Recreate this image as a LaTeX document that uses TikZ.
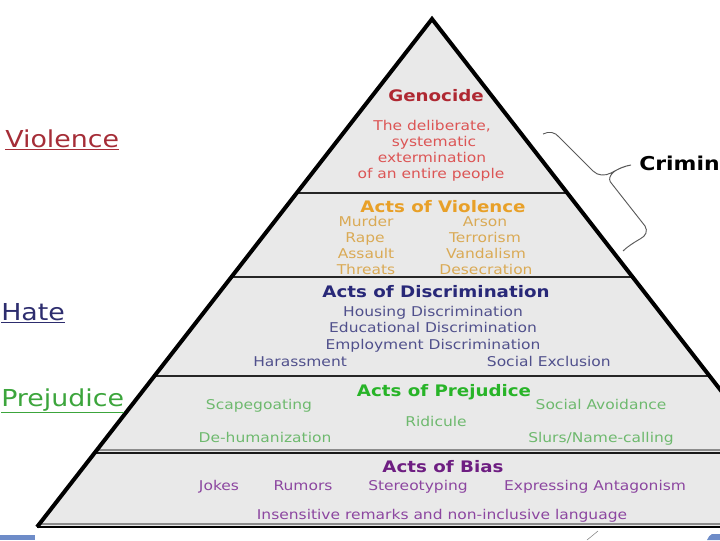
\documentclass[tikz,border=0pt]{standalone}
\usepackage{fontspec}
\setmainfont[FakeStretch=1.15]{DejaVu Sans}

\definecolor{pyrfill}{RGB}{233,233,233}
\definecolor{genohead}{RGB}{175,40,50}
\definecolor{genotext}{RGB}{220,85,85}
\definecolor{violhead}{RGB}{232,160,40}
\definecolor{violtext}{RGB}{218,170,85}
\definecolor{dischead}{RGB}{40,40,120}
\definecolor{distext}{RGB}{80,80,140}
\definecolor{prejhead}{RGB}{40,180,40}
\definecolor{prejtext}{RGB}{110,185,110}
\definecolor{biashead}{RGB}{110,30,130}
\definecolor{biastext}{RGB}{140,70,160}
\definecolor{lblviol}{RGB}{165,45,55}
\definecolor{lblhate}{RGB}{45,45,110}
\definecolor{lblprej}{RGB}{60,165,60}
\definecolor{barblue}{RGB}{110,140,200}

\begin{document}
\begin{tikzpicture}[x=0.75pt,y=0.75pt,yscale=-1,xscale=1,
  item/.style={inner sep=0.75pt,text height=7.4pt,text depth=2pt,font=\fontsize{10.1}{12}\selectfont},
  head/.style={inner sep=0.75pt,text height=8.8pt,text depth=2.4pt,font=\fontsize{11.9}{14}\selectfont\bfseries},
  side/.style={anchor=base west,inner sep=0.75pt,font=\fontsize{17.5}{21}\selectfont}]
\useasboundingbox (0,0) rectangle (720,540);
\clip (0,0) rectangle (720,540);

%Shape: Triangle
\fill [color=pyrfill] (37,527) -- (432,18) -- (827,527) -- cycle ;
\begin{scope}
\clip (37,527) -- (432,18) -- (827,527) -- cycle ;
%Straight Lines
\draw [color=black!85,line width=1.1] (0,193) -- (720,193) ;
\draw [color=black!85,line width=2] (0,277) -- (720,277) ;
\draw [color=black!85,line width=1.4] (0,376) -- (720,376) ;
\draw [color=black!45,line width=0.8] (0,450) -- (720,450) ;
\draw [color=black!90,line width=1.5] (0,453) -- (720,453) ;
\draw [color=black!45,line width=0.8] (0,524) -- (720,524) ;
\end{scope}
\draw [line width=1.9] (37,527) -- (720,527) ;
\draw [line width=3,line join=miter] (37,527) -- (432,19) -- (827,527) ;

%Shape: Bars
\fill [color=barblue] (0,535) rectangle (35,540) ;
\fill [color=barblue] (712,534) .. controls (710,535) and (708,537) .. (707,540) -- (720,540) -- (720,534) -- cycle ;
\draw [color=black!50,line width=0.4] (587,540) -- (598,531) ;

%Curve Lines: brace
\draw [color=black!65,line width=0.7] (543,134) .. controls (549,131) and (555,132) .. (559,137) -- (593,171) .. controls (598,176) and (605,176) .. (611,173) .. controls (618,169) and (625,166) .. (631,165) .. controls (624,166) and (614,170) .. (611,175) .. controls (609,178) and (609,181) .. (612,184) -- (645,226) .. controls (648,231) and (646,236) .. (640,239) .. controls (633,243) and (627,247) .. (623,251) ;

% Text Node
\node [side,color=lblviol] (lblviolence) at (4,147) {\underline{Violence}};
\node [side,color=lblhate] (lblhate) at (0,320) {\underline{Hate}};
\node [side,color=lblprej] (lblprejudice) at (0,406) {\underline{Prejudice}};
\node [anchor=base west,inner sep=0.75pt,font=\fontsize{14.3}{17}\selectfont\bfseries] (criminal) at (638,170) {Criminal};

% Text Node
\node [head,color=genohead] (genocide) at (436,97) {Genocide};
\node [item,color=genotext] (geno1) at (432,127) {The deliberate,};
\node [item,color=genotext] (geno2) at (434,143) {systematic};
\node [item,color=genotext] (geno3) at (432,159) {extermination};
\node [item,color=genotext] (geno4) at (431,175) {of an entire people};

% Text Node
\node [head,color=violhead] (violence) at (443,208) {Acts of Violence};
\node [item,color=violtext] (murder) at (366,223) {Murder};
\node [item,color=violtext] (rape) at (365,239) {Rape};
\node [item,color=violtext] (assault) at (366,255) {Assault};
\node [item,color=violtext] (threats) at (366,271) {Threats};
\node [item,color=violtext] (arson) at (485,223) {Arson};
\node [item,color=violtext] (terrorism) at (485,239) {Terrorism};
\node [item,color=violtext] (vandalism) at (486,255) {Vandalism};
\node [item,color=violtext] (desecration) at (486,271) {Desecration};

% Text Node
\node [head,color=dischead] (discrim) at (436,293) {Acts of Discrimination};
\node [item,color=distext] (housing) at (433,313) {Housing Discrimination};
\node [item,color=distext] (educational) at (433,329) {Educational Discrimination};
\node [item,color=distext] (employment) at (433,346) {Employment Discrimination};
\node [item,color=distext,anchor=west] (harassment) at (252,363) {Harassment};
\node [item,color=distext,anchor=east] (exclusion) at (612,363) {Social Exclusion};

% Text Node
\node [head,color=prejhead] (prejudice) at (444,392) {Acts of Prejudice};
\node [item,color=prejtext] (scapegoat) at (259,406) {Scapegoating};
\node [item,color=prejtext] (avoidance) at (601,406) {Social Avoidance};
\node [item,color=prejtext] (ridicule) at (436,423) {Ridicule};
\node [item,color=prejtext] (dehuman) at (265,439) {De-humanization};
\node [item,color=prejtext] (slurs) at (601,439) {Slurs/Name-calling};

% Text Node
\node [head,color=biashead] (bias) at (443,468) {Acts of Bias};
\node [item,color=biastext] (jokes) at (219,487) {Jokes};
\node [item,color=biastext] (rumors) at (303,487) {Rumors};
\node [item,color=biastext] (stereo) at (418,487) {Stereotyping};
\node [item,color=biastext] (antagonism) at (595,487) {Expressing Antagonism};
\node [item,color=biastext] (insensitive) at (442,516) {Insensitive remarks and non-inclusive language};

\end{tikzpicture}
\end{document}
